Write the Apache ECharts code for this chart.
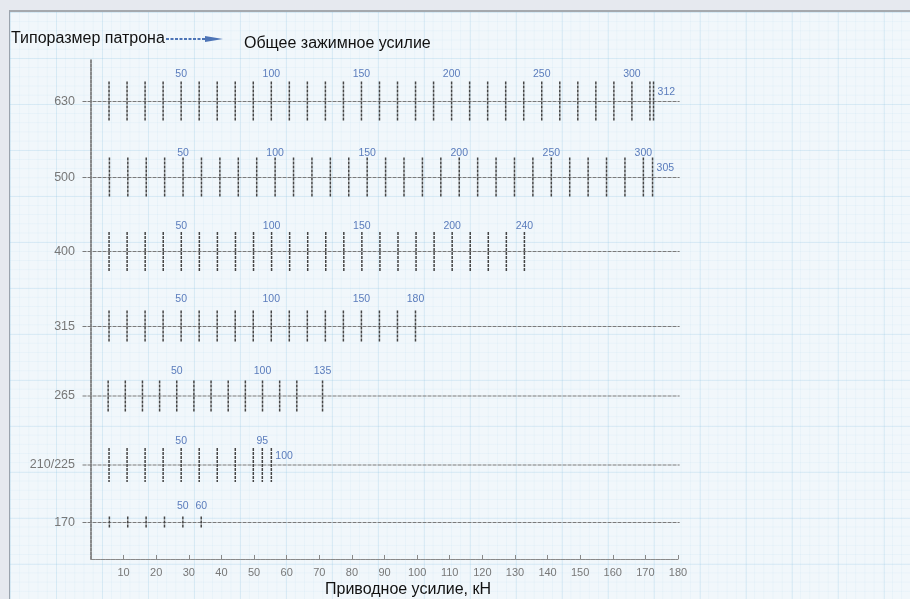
<!DOCTYPE html>
<html lang="ru">
<head>
    <meta charset="UTF-8">
    <title>Приводное усилие</title>
    <script src="https://cdn.jsdelivr.net/npm/echarts@6/dist/echarts.min.js"></script>
    <style>
        html, body { margin: 0; padding: 0; background: #e6e9ef; }
        #paper {
            position: absolute; left: 9px; top: 10px; width: 901px; height: 589px;
            border-left: 1px solid #9aa3ad; border-top: 2px solid #a5a9ae;
            background-color: #f1f7fb;
            background-image:
                linear-gradient(to right, rgba(150, 200, 228, 0.22) 1px, transparent 1px),
                linear-gradient(to bottom, rgba(150, 200, 228, 0.22) 1px, transparent 1px),
                linear-gradient(to right, rgba(160, 205, 230, 0.11) 1px, transparent 1px),
                linear-gradient(to bottom, rgba(160, 205, 230, 0.11) 1px, transparent 1px);
            background-size: 46px 46px, 46px 46px, 9.2px 9.2px, 9.2px 9.2px;
        }
        #chart { position: absolute; left: 0; top: 0; width: 910px; height: 599px; }
    </style>
</head>
<body>
<div id="paper"></div>
<div id="chart"></div>
<script type="text/javascript">
    // типоразмер патрона (снизу вверх) и уровень строки на оси Y
    var rowNames = ['170', '210/225', '265', '315', '400', '500', '630'];
    var rowLevels = [7.3, 18.8, 32.6, 46.5, 61.5, 76.3, 91.5];
    // последняя отметка: зажимное усилие и соответствующее приводное усилие, кН
    var maxClamp = [60, 100, 135, 180, 240, 305, 312];
    var maxDrive = [33.8, 55.3, 71, 99.5, 132.9, 172.2, 172.5];
    // отметки шкалы общего зажимного усилия
    var tickClamp = [
        [10, 20, 30, 40, 50, 60],
        [10, 20, 30, 40, 50, 60, 70, 80, 90, 95, 100],
        [10, 20, 30, 40, 50, 60, 70, 80, 90, 100, 110, 120, 135],
        [10, 20, 30, 40, 50, 60, 70, 80, 90, 100, 110, 120, 130, 140, 150, 160, 170, 180],
        [10, 20, 30, 40, 50, 60, 70, 80, 90, 100, 110, 120, 130, 140, 150, 160, 170, 180,
            190, 200, 210, 220, 230, 240],
        [10, 20, 30, 40, 50, 60, 70, 80, 90, 100, 110, 120, 130, 140, 150, 160, 170, 180,
            190, 200, 210, 220, 230, 240, 250, 260, 270, 280, 290, 300, 305],
        [10, 20, 30, 40, 50, 60, 70, 80, 90, 100, 110, 120, 130, 140, 150, 160, 170, 180,
            190, 200, 210, 220, 230, 240, 250, 260, 270, 280, 290, 300, 310, 312]
    ];
    // подписи над отметками
    var labelClamp = [
        [50, 60],
        [50, 95],
        [50, 100, 135],
        [50, 100, 150, 180],
        [50, 100, 150, 200, 240],
        [50, 100, 150, 200, 250, 300],
        [50, 100, 150, 200, 250, 300]
    ];
    // подписи справа от последней отметки
    var sideLabel = [null, 100, null, null, null, 305, 312];
    var xTicks = [10, 20, 30, 40, 50, 60, 70, 80, 90, 100, 110, 120, 130, 140, 150, 160, 170, 180];

    var tickHalf = [6, 17, 15.5, 16, 19.5, 20, 20];
    var labelRise = [16, 24, 25, 27, 25, 24.5, 27.5];

    function drive(r, c) {
        return c * maxDrive[r] / maxClamp[r];
    }

    var tickData = [];
    var labelData = [];
    var sideData = [];
    for (var r = 0; r < rowNames.length; r++) {
        tickClamp[r].forEach(function (c) {
            tickData.push([drive(r, c), rowLevels[r], r, c]);
        });
        labelClamp[r].forEach(function (c) {
            labelData.push([drive(r, c), rowLevels[r], r, c]);
        });
        if (sideLabel[r] !== null) {
            sideData.push([drive(r, sideLabel[r]), rowLevels[r], r, sideLabel[r]]);
        }
    }
    var rowData = rowLevels.map(function (y, i) { return [0, y, i]; });

    var chart = echarts.init(document.getElementById('chart'));
    chart.setOption({
        animation: false,
        textStyle: { fontFamily: 'Liberation Sans, Arial, sans-serif' },
        grid: { left: 91, right: 232, top: 59, bottom: 40 },
        graphic: [
            {
                type: 'text', left: 11, top: 31,
                style: { text: 'Типоразмер патрона', fontSize: 16, fill: '#111', fontFamily: 'Liberation Sans' }
            },
            {
                type: 'line', shape: { x1: 166, y1: 39, x2: 212, y2: 39 },
                style: { stroke: '#4d74b6', lineWidth: 2, lineDash: [3, 1.5] }
            },
            {
                type: 'polygon', shape: { points: [[205, 36], [223, 39], [205, 42]] },
                style: { fill: '#4d74b6' }
            },
            {
                type: 'text', left: 244, top: 36,
                style: { text: 'Общее зажимное усилие', fontSize: 16, fill: '#111', fontFamily: 'Liberation Sans' }
            },
            {
                type: 'text', left: 325, top: 582,
                style: { text: 'Приводное усилие, кН', fontSize: 16, fill: '#111', fontFamily: 'Liberation Sans' }
            }
        ],
        xAxis: {
            type: 'value', min: 0, max: 180, interval: 10,
            axisLine: { lineStyle: { color: '#888', width: 1.2, type: [4, 1] } },
            axisTick: { inside: true, length: 4, lineStyle: { color: '#888' } },
            axisLabel: {
                color: '#777', fontSize: 11, margin: 8,
                formatter: function (v) { return xTicks.indexOf(v) >= 0 ? String(v) : ''; }
            },
            splitLine: { show: false }
        },
        yAxis: {
            type: 'value', min: 0, max: 100,
            axisLine: { show: true, lineStyle: { color: '#666', width: 1.5, type: [3, 1] } },
            axisTick: { show: false },
            splitLine: { show: false },
            axisLabel: {
                color: '#777', fontSize: 12.5, margin: 16,
                customValues: rowLevels,
                formatter: function (v) {
                    var i = rowLevels.indexOf(v);
                    return i >= 0 ? rowNames[i] : '';
                }
            }
        },
        series: [
            {
                type: 'custom', clip: false, silent: true,
                data: rowData,
                renderItem: function (params, api) {
                    var y = api.value(1);
                    var a = api.coord([-2.6, y]);
                    var b = api.coord([180.5, y]);
                    return {
                        type: 'line',
                        shape: { x1: a[0], y1: a[1], x2: b[0], y2: b[1] },
                        style: { stroke: '#7a7a7a', lineWidth: 1.2, lineDash: [4, 1] }
                    };
                }
            },
            {
                type: 'custom', clip: false, silent: true,
                data: tickData,
                renderItem: function (params, api) {
                    var p = api.coord([api.value(0), api.value(1)]);
                    var h = tickHalf[api.value(2)];
                    return {
                        type: 'line',
                        shape: { x1: p[0], y1: p[1] - h, x2: p[0], y2: p[1] + h },
                        style: { stroke: '#454545', lineWidth: 1.5, lineDash: [3, 1] }
                    };
                }
            },
            {
                type: 'custom', clip: false, silent: true,
                data: labelData,
                renderItem: function (params, api) {
                    var p = api.coord([api.value(0), api.value(1)]);
                    return {
                        type: 'text',
                        x: p[0], y: p[1] - labelRise[api.value(2)],
                        style: {
                            text: String(api.value(3)), fill: '#5a7cbc', fontSize: 10.5,
                            fontFamily: 'Liberation Sans', align: 'center', verticalAlign: 'middle'
                        }
                    };
                }
            },
            {
                type: 'custom', clip: false, silent: true,
                data: sideData,
                renderItem: function (params, api) {
                    var p = api.coord([api.value(0), api.value(1)]);
                    return {
                        type: 'text',
                        x: p[0] + 4, y: p[1] - 9,
                        style: {
                            text: String(api.value(3)), fill: '#5a7cbc', fontSize: 10.5,
                            fontFamily: 'Liberation Sans', align: 'left', verticalAlign: 'middle'
                        }
                    };
                }
            }
        ]
    });
</script>
</body>
</html>
